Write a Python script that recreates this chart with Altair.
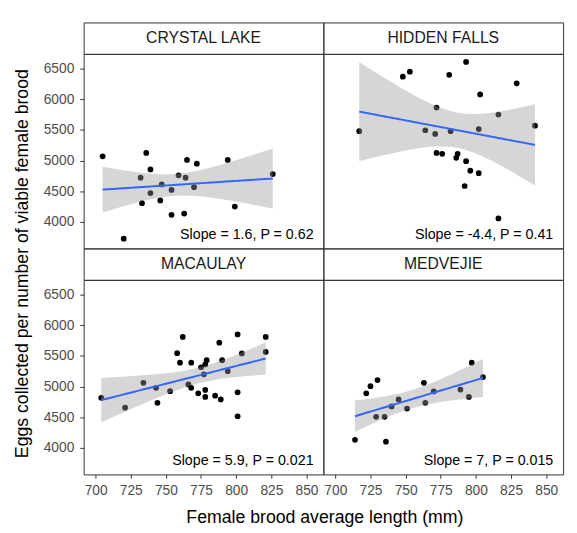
import math
import numpy as np
import pandas as pd
import altair as alt

SITES = ["CRYSTAL LAKE", "HIDDEN FALLS", "MACAULAY", "MEDVEJIE"]
LABELS = ["Slope = 1.6, P = 0.62", "Slope = -4.4, P = 0.41",
          "Slope = 5.9, P = 0.021", "Slope = 7, P = 0.015"]
X_TICKS = [700, 725, 750, 775, 800, 825, 850]
Y_TICKS = [4000, 4500, 5000, 5500, 6000, 6500]
X_TITLE = "Female brood average length (mm)"
Y_TITLE = "Eggs collected per number of viable female brood"

crystal_x = [705, 736, 739, 732, 747, 754, 739, 733, 746, 754, 763, 759, 764,
             765, 772, 770, 794, 799, 826, 720]
crystal_y = [5070, 5125, 4855, 4720, 4610, 4520, 4470, 4305, 4350, 4115, 4135,
             4760, 4720, 5010, 4950, 4565, 5010, 4250, 4780, 3725]

hidden_x = [717, 748, 753, 781, 793, 829, 803, 772, 816, 842, 764, 771, 782,
            802, 772, 776, 787, 786, 793, 796, 802, 792, 816]
hidden_y = [5480, 6370, 6450, 6400, 6610, 6260, 6080, 5865, 5750, 5570, 5495,
            5435, 5480, 5515, 5125, 5110, 5110, 5045, 4990, 4835, 4795, 4585, 4055]

macaulay_x = [704, 721, 734, 743, 744, 753, 758, 760, 762, 768, 766, 768, 773,
              775, 778, 779, 777, 778, 778, 785, 789, 788, 790, 794, 801, 804,
              801, 801, 821, 821]
macaulay_y = [4815, 4655, 5060, 4980, 4735, 4925, 5545, 5390, 5810, 5390, 5035,
              4980, 4890, 5315, 5360, 5430, 5200, 4945, 4830, 4850, 4790, 5715,
              5430, 5250, 5850, 5540, 4905, 4515, 5810, 5565]

medvejie_x = [714, 722, 725, 730, 729, 735, 736, 740, 745, 751, 763, 764, 770,
              789, 795, 797, 805]
medvejie_y = [4130, 4890, 5005, 5105, 4505, 4505, 4100, 4675, 4790, 4640, 5060,
              4735, 4920, 4950, 4830, 5390, 5155]

XS = [crystal_x, hidden_x, macaulay_x, medvejie_x]
YS = [crystal_y, hidden_y, macaulay_y, medvejie_y]

X_DOMAIN = [691.5, 862]
Y_DOMAIN = [3566, 6741]
PW, PH, SH = 244, 198, 32


def t_quantile(p, df):
    c = math.exp(math.lgamma((df + 1) / 2) - math.lgamma(df / 2)) / math.sqrt(df * math.pi)

    def area(t):
        g = np.linspace(0, t, 4001)
        f = c * (1 + g ** 2 / df) ** (-(df + 1) / 2)
        return float(((f[1:] + f[:-1]) / 2 * np.diff(g)).sum())

    lo, hi = 0.0, 20.0
    for _ in range(60):
        mid = (lo + hi) / 2
        if area(mid) < p - 0.5:
            lo = mid
        else:
            hi = mid
    return (lo + hi) / 2


def fit_band(xs, ys):
    x = np.array(xs, float)
    y = np.array(ys, float)
    n = len(x)
    xm = x.mean()
    sxx = ((x - xm) ** 2).sum()
    b = ((x - xm) * (y - y.mean())).sum() / sxx
    a = y.mean() - b * xm
    s = math.sqrt(((y - (a + b * x)) ** 2).sum() / (n - 2))
    t = t_quantile(0.975, n - 2)
    gx = np.linspace(x.min(), x.max(), 80)
    fit = a + b * gx
    se = s * np.sqrt(1 / n + (gx - xm) ** 2 / sxx)
    return pd.DataFrame({"x": gx, "fit": fit, "lo": fit - t * se, "hi": fit + t * se})


def body(i, show_x, show_y):
    pts = pd.DataFrame({"x": XS[i], "y": YS[i]})
    band = fit_band(XS[i], YS[i])
    xscale = alt.Scale(domain=X_DOMAIN, nice=False, zero=False)
    yscale = alt.Scale(domain=Y_DOMAIN, nice=False, zero=False)
    if show_x:
        x_axis = alt.Axis(values=X_TICKS, format="d", grid=False, domain=False, tickSize=4,
                          tickColor="#333333", labelColor="#4d4d4d", labelFontSize=14,
                          labelPadding=5, titleFontSize=18, titleFontWeight="normal",
                          titleColor="black", titleX=245, titleY=49,
                          titleBaseline="alphabetic")
    else:
        x_axis = None
    if show_y:
        y_axis = alt.Axis(values=Y_TICKS, format="d", grid=False, domain=False, tickSize=4,
                          tickColor="#333333", labelColor="#4d4d4d", labelFontSize=14,
                          labelPadding=6, titleFontSize=18, titleFontWeight="normal",
                          titleColor="black", titleX=-57, titleY=213,
                          titleBaseline="alphabetic")
    else:
        y_axis = None
    xt = X_TITLE if (i == 2) else None
    yt = Y_TITLE if (i == 0) else None

    def xe(f):
        return alt.X(f"{f}:Q", scale=xscale, axis=x_axis, title=xt)

    def ye(f):
        return alt.Y(f"{f}:Q", scale=yscale, axis=y_axis, title=yt)

    points = alt.Chart(pts).mark_circle(size=34, color="black", opacity=1).encode(
        x=xe("x"), y=ye("y"))
    area = alt.Chart(band).mark_area(color="#999999", opacity=0.4).encode(
        x=xe("x"), y=ye("lo"), y2="hi")
    line = alt.Chart(band).mark_line(color="#3366FF", strokeWidth=2).encode(
        x=xe("x"), y=ye("fit"))
    text = alt.Chart(pd.DataFrame({"t": [LABELS[i]]})).mark_text(
        align="right", baseline="middle", fontSize=14.5, color="black").encode(
        x=alt.value(234), y=alt.value(184), text="t:N")
    return alt.layer(points, area, line, text).properties(width=PW, height=PH)


def strip(i):
    return alt.Chart(pd.DataFrame({"s": [SITES[i]]})).mark_text(
        fontSize=16, color="#1a1a1a", baseline="middle").encode(
        x=alt.value(PW / 2), y=alt.value(SH / 2), text="s:N").properties(width=PW, height=SH)


chart = alt.concat(
    strip(0), strip(1),
    body(0, False, True), body(1, False, False),
    strip(2), strip(3),
    body(2, True, True), body(3, True, False),
    columns=2, spacing=0, bounds="flush",
).properties(
    padding={"left": 5, "top": 9, "right": 5, "bottom": 5}
).configure(
    font="Liberation Sans"
).configure_view(
    stroke="#333333", strokeWidth=1
).configure_axis(
    labelFont="Liberation Sans", titleFont="Liberation Sans"
)

chart.save("out.html", embed_options={"renderer": "svg", "actions": False})
